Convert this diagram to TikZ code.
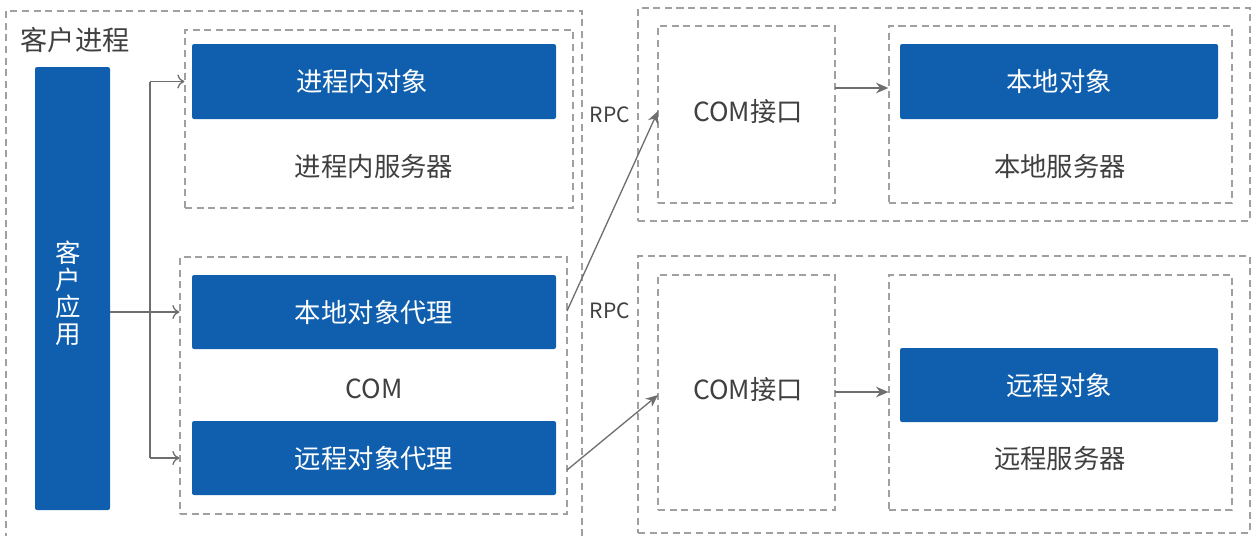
\documentclass[tikz,border=0pt]{standalone}
\usepackage{fontspec}
\setmainfont{Noto Sans CJK SC}
\usetikzlibrary{fit,arrows.meta}
\definecolor{cblue}{HTML}{0F5FAE}
\definecolor{cdash}{HTML}{A0A0A0}
\definecolor{ctext}{HTML}{404040}
\definecolor{carrow}{HTML}{6E6E6E}
\tikzset{
  px/.style={x=0.02cm,y=-0.02cm},
  dbox/.style={draw=cdash, line width=0.7pt, dash pattern=on 4pt off 2.6pt, inner sep=0pt, rectangle},
  bbox/.style={fill=cblue, draw=none, rounded corners=1.2pt, inner sep=0pt},
  btxt/.style={label={[text=white, font=\fontsize{15}{18}\selectfont, inner sep=0pt]center:#1}},
  lbl/.style={text=ctext, font=\fontsize{15}{18}\selectfont, inner sep=0pt},
  small/.style={text=ctext, font=\fontsize{12}{14}\selectfont, inner sep=0pt},
  openarr/.style={draw=carrow, line width=0.75pt, -{To[length=4pt,width=8pt]}},
  fillarr/.style={draw=carrow, line width=0.75pt, -{Stealth[length=7pt,width=6pt]}},
  plain/.style={draw=carrow, line width=0.75pt}
}
\begin{document}
\begin{tikzpicture}[px]
\useasboundingbox (0,0) rectangle (1253,535);
% client process outer (open at bottom)
\draw[dbox] (6,540) -- (6,11) -- (582,11) -- (582,540);
\node[lbl, font=\fontsize{15.5}{18}\selectfont] (cp) at (75,40) {客户进程};
% client app
\node[bbox, fit={(35,67) (110,510)}] (app) {};
\node[text=white, font=\fontsize{14.5}{15.4}\selectfont, align=center, inner sep=0pt] (apptxt) at (68,293) {客\\户\\应\\用};
% in-process server
\node[dbox, fit={(185,30) (573,208)}] (inbox) {};
\node[bbox, fit={(192,44) (556,119)}] (inobj) {};
\node[text=white, font=\fontsize{15}{18}\selectfont, inner sep=0pt] (inobjt) at (362,81.5) {进程内对象};
\node[lbl] (inlbl) at (374,166) {进程内服务器};
% COM
\node[dbox, fit={(180,257) (567,514)}] (combox) {};
\node[bbox, fit={(192,275) (556,349)}, btxt=本地对象代理] (lproxy) {};
\node[lbl] (comlbl) at (374,389) {COM};
\node[bbox, fit={(192,421) (556,495)}, btxt=远程对象代理] (rproxy) {};
% right top
\node[dbox, fit={(638,8) (1250,221)}] (rt) {};
\node[dbox, fit={(658,26) (835,203)}] (comi1) {};
\node[lbl] (comi1t) at (748,112) {COM接口};
\node[dbox, fit={(889,26) (1232,203)}] (lsrv) {};
\node[bbox, fit={(900,44) (1218,119)}, btxt=本地对象] (lobj) {};
\node[lbl] (lsrvt) at (1060,166) {本地服务器};
% right bottom
\node[dbox, fit={(638,256) (1250,533)}] (rb) {};
\node[dbox, fit={(658,275) (835,510)}] (comi2) {};
\node[lbl] (comi2t) at (748,390) {COM接口};
\node[dbox, fit={(889,275) (1232,510)}] (rsrv) {};
\node[bbox, fit={(900,348) (1218,422)}, btxt=远程对象] (robj) {};
\node[lbl] (rsrvt) at (1060,458) {远程服务器};
% RPC labels
\node[small] (rpc1) at (610,115) {RPC};
\node[small] (rpc2) at (610,311) {RPC};
% connectors left
\coordinate (jt) at (150,81.5);
\coordinate (jb) at (150,458);
\draw[openarr] (app.east |- lproxy) -- (combox.west |- lproxy);
\draw[plain] (jt) -- (jb);
\draw[openarr] (jt) -- (jt -| inbox.west);
\draw[openarr] (jb) -- (jb -| combox.west);
% RPC arrows
\coordinate (r1s) at (567,311);
\coordinate (r1e) at (658,111);
\coordinate (r2s) at (567,470);
\coordinate (r2e) at (658,395);
\draw[fillarr] (r1s) -- (r1e);
\draw[fillarr] (r2s) -- (r2e);
% right arrows
\coordinate (a1) at (835,88);
\draw[fillarr] (a1) -- (a1 -| lsrv.west);
\coordinate (a2) at (835,392);
\draw[fillarr] (a2) -- (a2 -| rsrv.west);
\end{tikzpicture}
\end{document}
